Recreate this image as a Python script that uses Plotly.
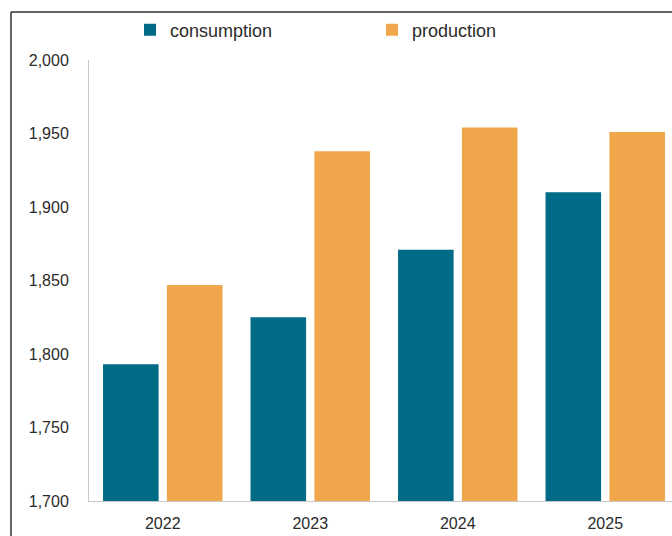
import plotly.graph_objects as go

years = ["2022", "2023", "2024", "2025"]
consumption = [1793, 1825, 1871, 1910]
production = [1847, 1938, 1954, 1951]

teal = "#006b87"
orange = "#f0a64a"
txt = "#2b2b2b"

W, H = 672, 536
L, R, T, B = 89, 0, 60, 35
pw = W - L - R
ph = H - T - B
cat_px = 147.5

fig = go.Figure()
fig.add_trace(go.Bar(name="consumption", x=years, y=consumption, marker=dict(color=teal, line=dict(width=0))))
fig.add_trace(go.Bar(name="production", x=years, y=production, marker=dict(color=orange, line=dict(width=0))))

def px_x(p):
    return (p - L) / pw

def px_y(p):
    return (H - B - p) / ph

fig.update_layout(
    width=W, height=H,
    margin=dict(l=L, r=R, t=T, b=B, pad=0),
    paper_bgcolor="white", plot_bgcolor="white",
    barmode="group", bargap=0.134, bargroupgap=0.13,
    font=dict(family="Liberation Sans, Arial, sans-serif", size=16, color=txt),
    showlegend=True,
    legend=dict(orientation="h", x=px_x(130), xanchor="left", y=px_y(30), yanchor="middle",
                font=dict(size=18, color=txt), entrywidth=197, bgcolor="rgba(0,0,0,0)",
                traceorder="normal"),
    xaxis=dict(type="category", range=[-0.5, -0.5 + pw / cat_px], showgrid=False,
               showline=True, linecolor="#c8c8c8", linewidth=1, ticks="",
               ticklabelstandoff=8, tickfont=dict(size=16, color=txt)),
    yaxis=dict(range=[1700, 2000], dtick=50, tickformat=",", showgrid=False,
               showline=True, linecolor="#c8c8c8", linewidth=1, ticks="",
               ticklabelstandoff=16, tickfont=dict(size=16, color=txt), zeroline=False),
    shapes=[
        dict(type="line", xref="paper", yref="paper", x0=px_x(11), x1=1.05, y0=px_y(12), y1=px_y(12),
             line=dict(color="#333333", width=1.5)),
        dict(type="line", xref="paper", yref="paper", x0=px_x(11), x1=px_x(11), y0=px_y(12), y1=px_y(540),
             line=dict(color="#333333", width=1.5)),
    ],
)

fig.write_html("out.html")
